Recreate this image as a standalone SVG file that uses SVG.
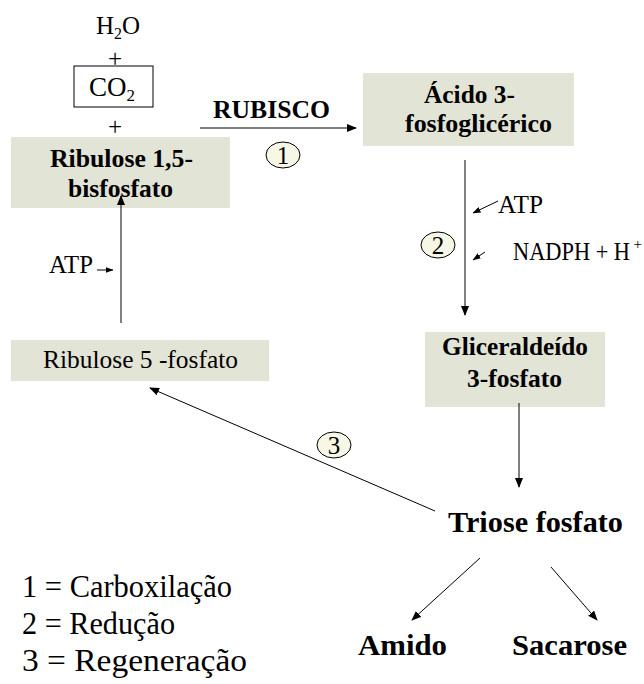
<svg xmlns="http://www.w3.org/2000/svg" width="644" height="684" viewBox="0 0 644 684">
<style>
.t{font-family:"Liberation Serif","Times New Roman",serif;fill:#000}
.b{font-weight:bold;font-size:26px}
.n{font-size:25px}
.big{font-weight:bold;font-size:30px}
.leg{font-size:31px}
.box{fill:#e2e4d6}
.ln{stroke:#000;stroke-width:1;fill:none}
.circ{fill:#f7f7e6;stroke:#000;stroke-width:1}
</style>
<defs>
<marker id="ah" markerWidth="10" markerHeight="8" refX="9" refY="4" orient="auto" markerUnits="userSpaceOnUse">
<path d="M0,0 L10,4 L0,8 z" fill="#000"/>
</marker>
<marker id="ahs" markerWidth="8" markerHeight="6" refX="7.5" refY="3" orient="auto" markerUnits="userSpaceOnUse">
<path d="M0,0 L8,3 L0,6 z" fill="#000"/>
</marker>
</defs>

<g id="reagents">
<text class="t n" x="118" y="34" text-anchor="middle">H<tspan font-size="16" dy="5">2</tspan><tspan dy="-5">O</tspan></text>
<text class="t n" x="115" y="67" text-anchor="middle">+</text>
<rect x="74" y="66" width="79" height="41" fill="#fff" stroke="#000" stroke-width="1"/>
<text class="t" font-size="27" x="112" y="96" text-anchor="middle">CO<tspan font-size="17" dy="5">2</tspan></text>
<text class="t n" x="115" y="135" text-anchor="middle">+</text>
</g>

<g id="ribulose15">
<rect class="box" x="11" y="137" width="219" height="71"/>
<text class="t b" x="50" y="167" textLength="143" lengthAdjust="spacingAndGlyphs">Ribulose 1,5-</text>
<text class="t b" x="68" y="197" textLength="105" lengthAdjust="spacingAndGlyphs">bisfosfato</text>
</g>

<g id="acido">
<rect class="box" x="363" y="73" width="211" height="73"/>
<text class="t b" x="424" y="103" textLength="91" lengthAdjust="spacingAndGlyphs">Ácido 3-</text>
<text class="t b" x="405" y="132" textLength="147" lengthAdjust="spacingAndGlyphs">fosfoglicérico</text>
</g>

<g id="gliceraldeido">
<rect class="box" x="425" y="332" width="180" height="75"/>
<text class="t b" x="442" y="355" textLength="146" lengthAdjust="spacingAndGlyphs">Gliceraldeído</text>
<text class="t b" x="467" y="387" textLength="95" lengthAdjust="spacingAndGlyphs">3-fosfato</text>
</g>

<g id="ribulose5">
<rect class="box" x="11" y="340" width="258" height="41"/>
<text class="t n" x="43" y="368" textLength="195" lengthAdjust="spacingAndGlyphs">Ribulose 5 -fosfato</text>
</g>

<g id="triose">
<text class="t big" x="448" y="532" textLength="175" lengthAdjust="spacingAndGlyphs">Triose fosfato</text>
</g>
<g id="amido">
<text class="t big" x="358" y="655" textLength="89" lengthAdjust="spacingAndGlyphs">Amido</text>
</g>
<g id="sacarose">
<text class="t big" x="512" y="655" textLength="115" lengthAdjust="spacingAndGlyphs">Sacarose</text>
</g>

<g id="connectors">
<line class="ln" x1="200" y1="128" x2="356" y2="128" marker-end="url(#ah)"/>
<line class="ln" x1="465" y1="160" x2="465" y2="315" marker-end="url(#ah)"/>
<line class="ln" x1="519" y1="403" x2="519" y2="487" marker-end="url(#ah)"/>
<line class="ln" x1="435" y1="511" x2="150" y2="388" marker-end="url(#ah)"/>
<line class="ln" x1="121" y1="323" x2="121" y2="196" marker-end="url(#ah)"/>
<line class="ln" x1="480" y1="558" x2="412" y2="620" marker-end="url(#ah)"/>
<line class="ln" x1="551" y1="567" x2="597" y2="620" marker-end="url(#ah)"/>
<line class="ln" x1="498" y1="201" x2="473" y2="213" marker-end="url(#ahs)"/>
<line class="ln" x1="485" y1="252" x2="473" y2="260" marker-end="url(#ahs)"/>
<line class="ln" x1="97" y1="270" x2="113" y2="270" marker-end="url(#ahs)"/>
</g>

<g id="labels">
<text class="t b" x="213" y="118" textLength="117" lengthAdjust="spacingAndGlyphs">RUBISCO</text>
<text class="t n" x="498" y="213" textLength="45" lengthAdjust="spacingAndGlyphs">ATP</text>
<text class="t n" x="513" y="260" textLength="117" lengthAdjust="spacingAndGlyphs">NADPH + H</text>
<text class="t" font-size="15" x="633.5" y="249">+</text>
<text class="t n" x="49" y="273" textLength="44" lengthAdjust="spacingAndGlyphs">ATP</text>
</g>

<g id="step1">
<ellipse class="circ" cx="283" cy="155" rx="17" ry="13"/>
<text class="t n" x="283" y="163.5" text-anchor="middle">1</text>
</g>
<g id="step2">
<ellipse class="circ" cx="438" cy="245" rx="17" ry="13"/>
<text class="t n" x="438" y="253.5" text-anchor="middle">2</text>
</g>
<g id="step3">
<ellipse class="circ" cx="334" cy="445" rx="17" ry="13"/>
<text class="t n" x="334" y="453.5" text-anchor="middle">3</text>
</g>

<g id="legend">
<text class="t leg" x="22" y="597" textLength="210" lengthAdjust="spacingAndGlyphs">1 = Carboxilação</text>
<text class="t leg" x="22" y="634" textLength="153" lengthAdjust="spacingAndGlyphs">2 = Redução</text>
<text class="t leg" x="22" y="671" textLength="225" lengthAdjust="spacingAndGlyphs">3 = Regeneração</text>
</g>
</svg>
